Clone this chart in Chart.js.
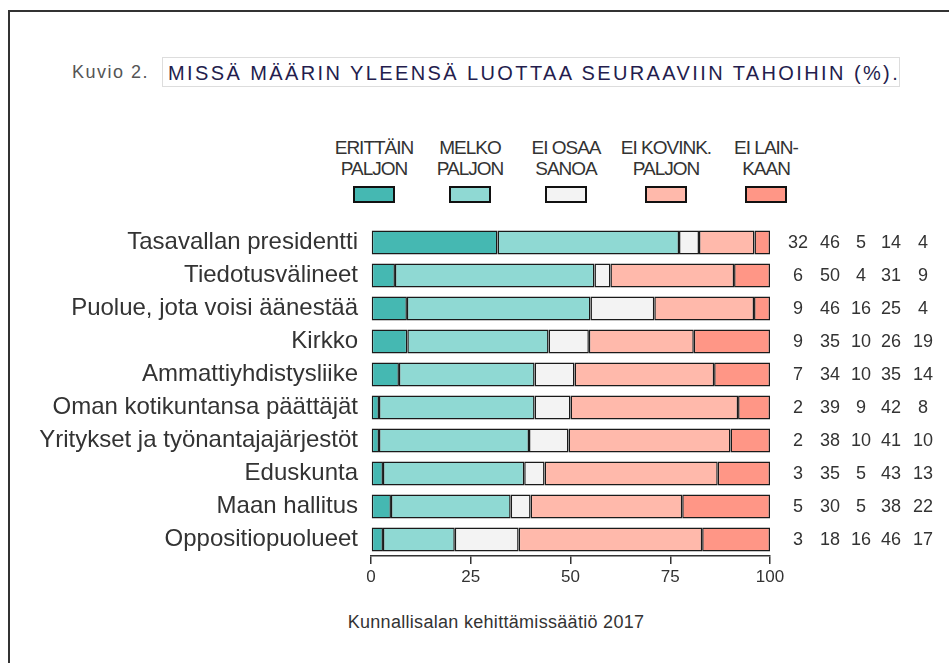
<!DOCTYPE html>
<html>
<head>
<meta charset="utf-8">
<script src="https://cdn.jsdelivr.net/npm/chart.js@4.4.1/dist/chart.umd.min.js"></script>
<style>
  html, body { margin: 0; padding: 0; background: #fff; }
  body { width: 949px; height: 663px; position: relative; overflow: hidden; font-family: "Liberation Sans", Arial, sans-serif; }
  #frame { position: absolute; left: 8px; top: 10px; width: 960px; height: 700px; border-left: 2px solid #333; border-top: 2px solid #333; }
  #kuvio { position: absolute; left: 72px; top: 62px; font-size: 18px; color: #555; letter-spacing: 1.5px; }
  #title { position: absolute; left: 162px; top: 57px; width: 738px; height: 30px; border: 1px solid #ddd; box-sizing: border-box; font-size: 20px; color: #241d4d; letter-spacing: 2.4px; line-height: 30px; padding-left: 5px; white-space: nowrap; }
  .leg { position: absolute; top: 137px; width: 110px; text-align: center; font-size: 19px; line-height: 21px; color: #333; letter-spacing: -1px; }
  .sw { position: absolute; top: 186px; width: 42px; height: 17px; box-sizing: border-box; border: 2px solid #111; }
  #source { position: absolute; left: 296px; top: 612px; width: 400px; text-align: center; font-size: 18px; color: #333; letter-spacing: 0.3px; }
  #c { position: absolute; left: 0; top: 0; }
</style>
</head>
<body>
<div id="frame"></div>
<div id="kuvio">Kuvio 2.</div>
<div id="title">MISSÄ MÄÄRIN YLEENSÄ LUOTTAA SEURAAVIIN TAHOIHIN (%).</div>
<div id="legend"></div>
<div id="source">Kunnallisalan kehittämissäätiö 2017</div>
<canvas id="c" width="949" height="663"></canvas>
<script>
// Categories
const categories = [
  "Tasavallan presidentti",
  "Tiedotusvälineet",
  "Puolue, jota voisi äänestää",
  "Kirkko",
  "Ammattiyhdistysliike",
  "Oman kotikuntansa päättäjät",
  "Yritykset ja työnantajajärjestöt",
  "Eduskunta",
  "Maan hallitus",
  "Oppositiopuolueet"
];
// Series names (legend, two lines each)
const seriesNames = [
  ["ERITTÄIN", "PALJON"],
  ["MELKO", "PALJON"],
  ["EI OSAA", "SANOA"],
  ["EI KOVINK.", "PALJON"],
  ["EI LAIN-", "KAAN"]
];
// Printed values (right-hand table)
const erittainPaljon = [32, 6, 9, 9, 7, 2, 2, 3, 5, 3];
const melkoPaljon    = [46, 50, 46, 35, 34, 39, 38, 35, 30, 18];
const eiOsaaSanoa    = [5, 4, 16, 10, 10, 9, 10, 5, 5, 16];
const eiKovinPaljon  = [14, 31, 25, 26, 35, 42, 41, 43, 38, 46];
const eiLainkaan     = [4, 9, 4, 19, 14, 8, 10, 13, 22, 17];
// Bar segment lengths (they fill 0..100)
const barErittain = [31.7, 6, 9, 9.1, 7, 2, 2, 3, 5, 3];
const barMelko    = [45.5, 50, 46, 35.4, 34, 39, 37.6, 35.4, 30, 18];
const barEiOsaa   = [5.0, 4, 16, 10.1, 10, 9, 9.9, 5.1, 5, 16];
const barEiKovin  = [13.9, 31, 25, 26.3, 35, 42, 40.6, 43.4, 38, 46];
const barEiLain   = [3.9, 9, 4, 19.1, 14, 8, 9.9, 13.1, 22, 17];
// Axis ticks
const xTicks = [0, 25, 50, 75, 100];

const colors = ["#45b8b2", "#8fd9d3", "#f3f3f3", "#ffb9ab", "#ff9686"];
const printed = [erittainPaljon, melkoPaljon, eiOsaaSanoa, eiKovinPaljon, eiLainkaan];
const bars = [barErittain, barMelko, barEiOsaa, barEiKovin, barEiLain];

// Legend (HTML)
const legendCenters = [374, 470, 566, 666, 766];
const legendEl = document.getElementById("legend");
seriesNames.forEach((n, i) => {
  const t = document.createElement("div");
  t.className = "leg";
  t.style.left = (legendCenters[i] - 55) + "px";
  t.innerHTML = n[0] + "<br>" + n[1];
  legendEl.appendChild(t);
  const s = document.createElement("div");
  s.className = "sw";
  s.style.left = (legendCenters[i] - 21) + "px";
  s.style.background = colors[i];
  legendEl.appendChild(s);
});

const valueColumns = [798, 830, 861, 891, 923];
const tablePlugin = {
  id: "tablePlugin",
  afterDatasetsDraw(chart) {
    const ctx = chart.ctx;
    const y = chart.scales.y;
    ctx.save();
    ctx.font = "18px 'Liberation Sans', Arial, sans-serif";
    ctx.fillStyle = "#333";
    ctx.textAlign = "center";
    ctx.textBaseline = "middle";
    categories.forEach((c, i) => {
      const py = y.getPixelForValue(i);
      printed.forEach((arr, k) => {
        ctx.fillText(String(arr[i]), valueColumns[k], py + 1);
      });
    });
    ctx.restore();
  }
};

new Chart(document.getElementById("c"), {
  type: "bar",
  data: {
    labels: categories,
    datasets: bars.map((arr, i) => ({
      label: seriesNames[i].join(" "),
      data: arr,
      backgroundColor: colors[i],
      borderColor: "#1a1a1a",
      borderWidth: 1.5,
      borderSkipped: false,
      barPercentage: 0.73,
      categoryPercentage: 1
    }))
  },
  options: {
    indexAxis: "y",
    responsive: false,
    animation: false,
    devicePixelRatio: 1,
    layout: { padding: { left: 0, right: 179, top: 226, bottom: 67 } },
    plugins: { legend: { display: false }, tooltip: { enabled: false }, title: { display: false } },
    scales: {
      x: {
        stacked: true,
        min: 0,
        max: 100,
        afterBuildTicks(scale) { scale.ticks = xTicks.map(v => ({ value: v })); },
        afterFit(scale) { scale.height = 40; },
        ticks: { color: "#333", font: { family: "'Liberation Sans', Arial, sans-serif", size: 17 }, padding: 3, maxRotation: 0 },
        grid: { drawOnChartArea: false, drawTicks: true, tickLength: 8, color: "#333", lineWidth: 1.5 },
        border: { display: true, color: "#333", width: 1.5 }
      },
      y: {
        stacked: true,
        afterFit(scale) { scale.width = 371; },
        ticks: { color: "#333", font: { family: "'Liberation Sans', Arial, sans-serif", size: 24 }, padding: 13, autoSkip: false },
        grid: { display: false, drawTicks: false },
        border: { display: false }
      }
    }
  },
  plugins: [tablePlugin]
});
</script>
</body>
</html>
